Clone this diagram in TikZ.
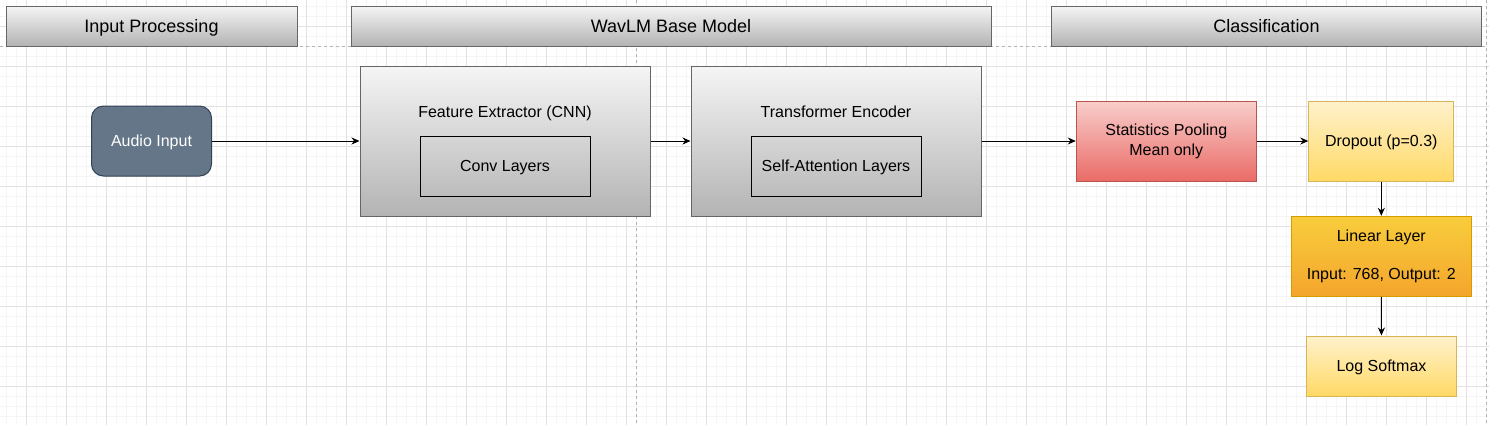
\documentclass[tikz,border=0pt]{standalone}
\usepackage{fontspec}
\setmainfont{Liberation Sans}
\usetikzlibrary{arrows.meta}
\definecolor{hdtop}{HTML}{F5F5F5}
\definecolor{hdbot}{HTML}{B3B3B3}
\definecolor{hdline}{HTML}{666666}
\definecolor{audiofill}{HTML}{647687}
\definecolor{audioline}{HTML}{314354}
\definecolor{redtop}{HTML}{F8CECC}
\definecolor{redbot}{HTML}{EA6B66}
\definecolor{redline}{HTML}{B85450}
\definecolor{yeltop}{HTML}{FFF2CC}
\definecolor{yelbot}{HTML}{FFD966}
\definecolor{yelline}{HTML}{D6B656}
\definecolor{orgtop}{HTML}{F8CD3C}
\definecolor{orgbot}{HTML}{F4A52C}
\definecolor{orgline}{HTML}{D79B00}
\definecolor{gridmajor}{HTML}{E2E2E2}
\definecolor{gridminor}{HTML}{F5F5F5}
\begin{document}
\begin{tikzpicture}[x=1pt,y=-1pt,
header/.style ={rectangle, draw=hdline, line width=1pt,
  top color=hdtop, bottom color=hdbot, inner sep=0pt, text depth=0pt,
  minimum height=40pt, font=\fontsize{18}{22}\selectfont
},
stage/.style ={rectangle, draw=hdline, line width=1pt,
  top color=hdtop, bottom color=hdbot, inner sep=0pt,
  minimum width=290pt, minimum height=150pt
},
inner/.style ={rectangle, draw=black, line width=1pt, inner sep=0pt,
  minimum width=170pt, minimum height=60pt, text depth=0pt,
  font=\fontsize{16}{20}\selectfont
},
title/.style ={inner sep=0pt, text depth=0pt, font=\fontsize{16}{20}\selectfont},
audio/.style ={rectangle, rounded corners=12pt, draw=audioline, line width=1pt,
  fill=audiofill, text=white, inner sep=0pt, text depth=0pt,
  minimum width=120pt, minimum height=70pt,
  font=\fontsize{16}{20}\selectfont
},
pool/.style ={rectangle, draw=redline, line width=1pt,
  top color=redtop, bottom color=redbot, inner sep=0pt,
  minimum width=180pt, minimum height=80pt, align=center,
  font=\fontsize{16}{20}\selectfont
},
soft/.style ={rectangle, draw=yelline, line width=1pt,
  top color=yeltop, bottom color=yelbot, inner sep=0pt, text depth=0pt,
  font=\fontsize{16}{20}\selectfont
},
linear/.style ={rectangle, draw=orgline, line width=1pt,
  top color=orgtop, bottom color=orgbot, inner sep=0pt,
  minimum width=180pt, minimum height=80pt, align=center,
  font=\fontsize{16}{20}\selectfont
},
flow/.style ={line width=1pt, -{Stealth[length=8pt,width=7pt]}},
sep/.style ={draw=hdbot, line width=0.8pt, dash pattern=on 3pt off 3pt}]
\useasboundingbox (0,0) rectangle (1489,424);
% background grid
\begin{scope}
\clip (0,0) rectangle (1489,424);
\fill[white] (0,0) rectangle (1489,424);
\draw[gridminor, line width=0.8pt, shift={(6.7,6)}] (-20,-20) grid[step=10pt] (1500,430);
\draw[gridmajor, line width=0.8pt, shift={(26.7,26)}] (-40,-40) grid[step=40pt] (1500,430);
\end{scope}
% lane borders
\draw[sep] (0,46) -- (1486,46);
\draw[sep] (636,0) -- (636,424);
\draw[sep] (1486,0) -- (1486,424);
% headers
\node (hin) at (151.5,26) [header, minimum width=291pt] {Input Processing};
\node (hwav) at (671,26) [header, minimum width=640pt] {WavLM Base Model};
\node (hcls) at (1266.5,26) [header, minimum width=430pt] {Classification};
% model
\node (audio) at (151.5,141) [audio] {Audio Input};
\node (cnn) at (505,141) [stage] {};
\node (cnnt) at (505,112) [title] {Feature Extractor (CNN)};
\node (conv) at (505,166) [inner] {Conv Layers};
\node (enc) at (836,141) [stage] {};
\node (enct) at (836,112) [title] {Transformer Encoder};
\node (att) at (836,166) [inner] {Self-Attention Layers};
\node (pool) at (1166.3,141) [pool] {Statistics Pooling\\Mean only};
\node (drop) at (1381.3,141) [soft, minimum width=145pt, minimum height=80pt] {Dropout (p=0.3)};
\node (lin) at (1381.3,256.3) [linear] {Linear Layer\\[18pt]Input: 768, Output: 2};
\node (lsm) at (1381.5,366) [soft, minimum width=150pt, minimum height=60pt] {Log Softmax};
% connectors
\draw[flow] (audio) -- (cnn);
\draw[flow] (cnn) -- (enc);
\draw[flow] (enc) -- (pool);
\draw[flow] (pool) -- (drop);
\draw[flow] (drop) -- (lin);
\draw[flow] (lin) -- (lsm);
\end{tikzpicture}
\end{document}
